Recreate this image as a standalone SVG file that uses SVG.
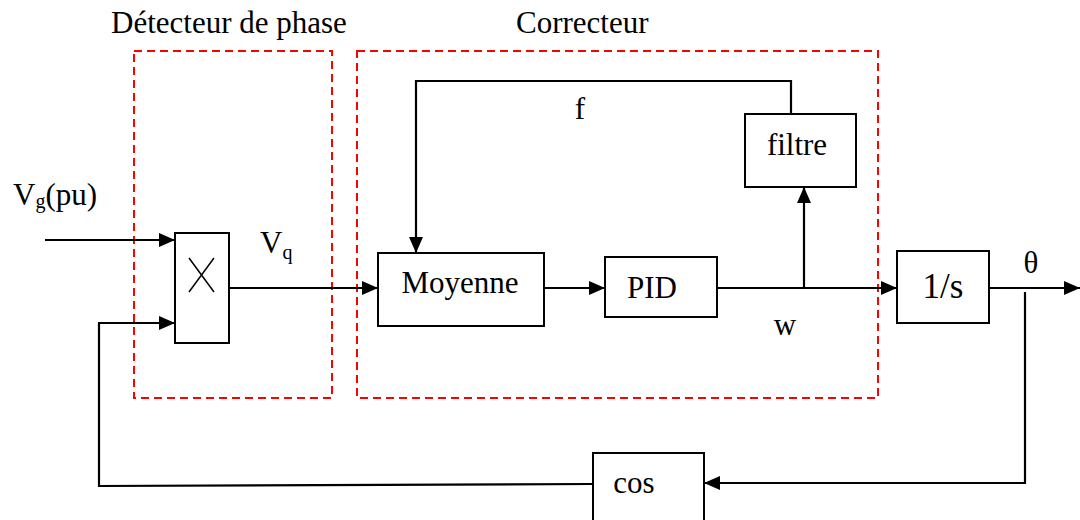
<svg xmlns="http://www.w3.org/2000/svg" width="1080" height="520" viewBox="0 0 1080 520">
<defs>
<marker id="ah" markerWidth="16" markerHeight="14" refX="16" refY="7" orient="auto" markerUnits="userSpaceOnUse">
<path d="M0,0 L16,7 L0,14 Z" fill="#000"/>
</marker>
<style>
.box{fill:#fff;stroke:#000;stroke-width:2}
.grp{fill:none;stroke:#ff0000;stroke-width:2;stroke-dasharray:8 5}
.ln{fill:none;stroke:#000;stroke-width:2.2}
.arr{marker-end:url(#ah)}
text{font-family:"Liberation Serif","Times New Roman",serif;font-size:31px;fill:#000}
.c{text-anchor:middle}
</style>
</defs>
<rect width="1080" height="520" fill="#fff"/>
<g id="groups">
<rect class="grp" x="134" y="51" width="198" height="347"/>
<rect class="grp" x="357" y="51" width="521" height="347"/>
<text x="111" y="33">Détecteur de phase</text>
<text x="516" y="33">Correcteur</text>
</g>
<g id="connectors">
<path class="ln arr" d="M45,240 H175"/>
<path class="ln" d="M593,484 L99,486 V323"/>
<path class="ln arr" d="M98,323 H175"/>
<path class="ln arr" d="M229,288 H378"/>
<path class="ln arr" d="M545,288 H605"/>
<path class="ln arr" d="M717,288 H897"/>
<path class="ln arr" d="M804,288 V187"/>
<path class="ln arr" d="M791,114 V81 H416 V253"/>
<path class="ln arr" d="M989,288 H1080"/>
<path class="ln arr" d="M1025,292 V483 H704"/>
</g>
<g id="mult">
<rect class="box" x="175" y="233" width="54" height="110"/>
<path d="M189,258 L214,292 M214,258 L189,292" stroke="#000" stroke-width="1.5" fill="none"/>
</g>
<g id="moyenne">
<rect class="box" x="378" y="253" width="166" height="73"/>
<text class="c" x="460" y="293">Moyenne</text>
</g>
<g id="pid">
<rect class="box" x="605" y="257" width="112" height="60"/>
<text class="c" x="652" y="298">PID</text>
</g>
<g id="filtre">
<rect class="box" x="745" y="114" width="111" height="73"/>
<text class="c" x="797" y="155">filtre</text>
</g>
<g id="integ">
<rect class="box" x="897" y="251" width="92" height="72"/>
<text class="c" x="943" y="298" style="font-size:35px">1/s</text>
</g>
<g id="cos">
<rect class="box" x="593" y="453" width="111" height="80"/>
<text class="c" x="634" y="493">cos</text>
</g>
<g id="labels">
<text x="13" y="205">V<tspan dy="3" style="font-size:20px">g</tspan><tspan dy="-3">(pu)</tspan></text>
<text x="260" y="253">V<tspan dy="6" style="font-size:20px">q</tspan></text>
<text x="580" y="119" class="c">f</text>
<text x="785" y="335" class="c">w</text>
<text x="1031" y="273" class="c">θ</text>
</g>
</svg>
